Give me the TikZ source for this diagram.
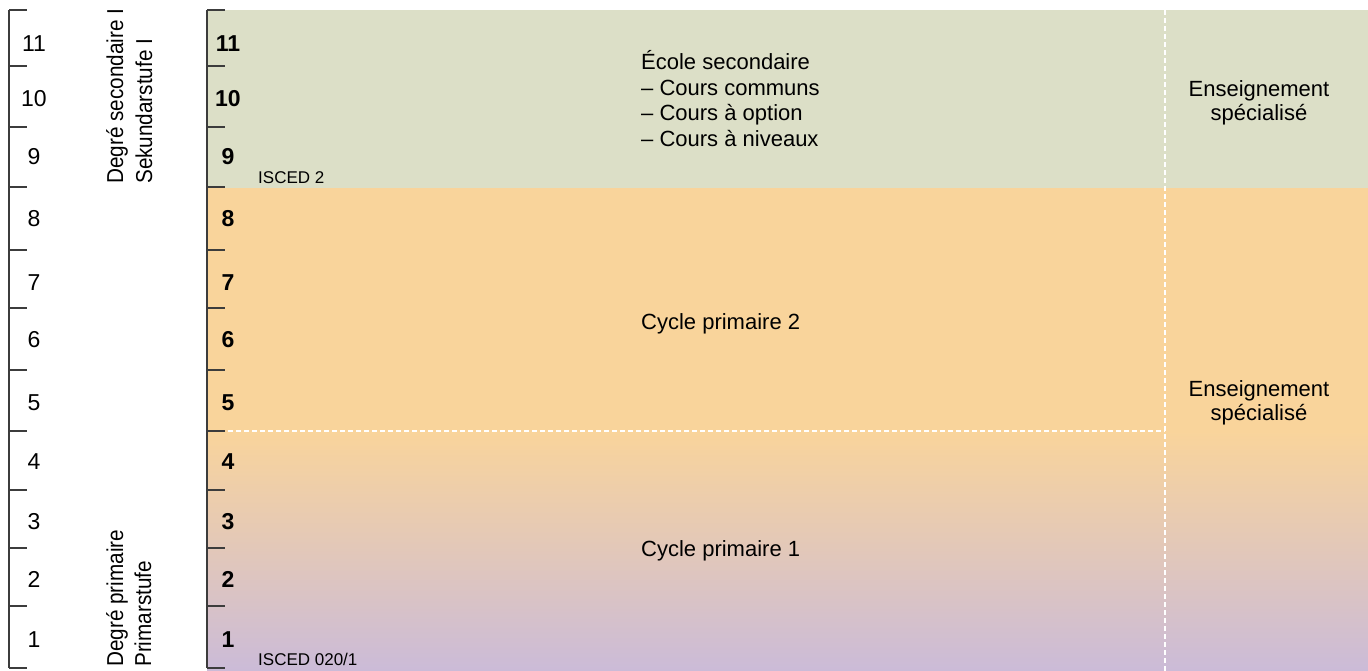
\documentclass[tikz,border=0pt]{standalone}
\usepackage{fontspec}
\setmainfont{Liberation Sans}
\newfontfamily\narrowsans[FakeStretch=0.9]{Liberation Sans}
\newcommand\sfStage{\narrowsans\fontsize{23}{27}\selectfont}
\newcommand\sfAxis{\fontsize{23}{27}\selectfont}
\newcommand\sfGrade{\fontsize{23}{27}\selectfont\bfseries}
\newcommand\sfMain{\fontsize{22}{26}\selectfont}
\newcommand\sfIsced{\fontsize{17}{20}\selectfont}
\definecolor{secgreen}{HTML}{DCDFC7}
\definecolor{priorange}{HTML}{F9D49B}
\definecolor{prililac}{HTML}{CBBBD8}
\definecolor{rulegray}{HTML}{3C3C3C}
\begin{document}
\begin{tikzpicture}[x=1pt,y=-1pt,
  axisrule/.style={draw=rulegray, line width=1.2pt},
  divider/.style={draw=white, line width=1.3pt, dash pattern=on 5pt off 3pt},
  scalenum/.style={font=\sfAxis, anchor=base, inner sep=0pt},
  gradenum/.style={font=\sfGrade, anchor=base, inner sep=0pt},
  maintext/.style={font=\sfMain, anchor=base west, inner sep=0pt},
  sidetext/.style={font=\sfMain, anchor=base, inner sep=0pt},
  iscedtext/.style={font=\sfIsced, anchor=base west, inner sep=0pt},
  stagetext/.style={font=\sfStage, rotate=90, anchor=base west, inner sep=0pt},
]
\useasboundingbox (0,0) rectangle (1368,671);

% coloured bands: lower secondary, upper primary, lower primary
\fill[secgreen] (207,10) rectangle (1368,188);
\fill[priorange] (207,188) rectangle (1368,431);
\shade[top color=priorange, bottom color=prililac] (207,431) rectangle (1368,671);

% dashed separators
\coordinate (colTop) at (1165,10);
\coordinate (colBot) at (1165,671);
\coordinate (cycStart) at (228,431);
\coordinate (cycEnd) at (1165,431);
\draw[divider] (colTop) -- (colBot);
\draw[divider] (cycStart) -- (cycEnd);

% year scales with ticks
\draw[axisrule] (9,10) -- (9,668);
\draw[axisrule] (207,10) -- (207,668);
\foreach \t in {10,66,127,187,250,308,370,431,490,548,606,668}{
  \draw[axisrule] (9,\t) -- (27,\t);
  \draw[axisrule] (207,\t) -- (225,\t);
}

% year numbers
\foreach \n/\b in {11/52,10/107,9/165,8/227,7/290,6/347,5/410,4/469,3/529,2/587,1/647}{
  \node[scalenum] (s\n) at (34,\b) {\n};
  \node[gradenum] (g\n) at (228,\b) {\n};
}

% stage names
\node[stagetext] (secFR) at (123,184) {Degré secondaire I};
\node[stagetext] (secDE) at (152,184) {Sekundarstufe I};
\node[stagetext] (priFR) at (123,667) {Degré primaire};
\node[stagetext] (priDE) at (151,667) {Primarstufe};

% school types
\node[maintext] (ecole) at (641,70) {École secondaire};
\node[maintext] (cc) at (641,95.5) {– Cours communs};
\node[maintext] (co) at (641,121) {– Cours à option};
\node[maintext] (cn) at (641,146.5) {– Cours à niveaux};
\node[maintext] (cp2) at (641,329.3) {Cycle primaire 2};
\node[maintext] (cp1) at (641,556) {Cycle primaire 1};

\node[sidetext] (es1a) at (1259,96.7) {Enseignement};
\node[sidetext] (es1b) at (1259,120.7) {spécialisé};
\node[sidetext] (es2a) at (1259,396.7) {Enseignement};
\node[sidetext] (es2b) at (1259,420.7) {spécialisé};

% ISCED levels
\node[iscedtext] (isced2) at (258,183.3) {ISCED 2};
\node[iscedtext] (isced01) at (258,665) {ISCED 020/1};
\end{tikzpicture}
\end{document}
